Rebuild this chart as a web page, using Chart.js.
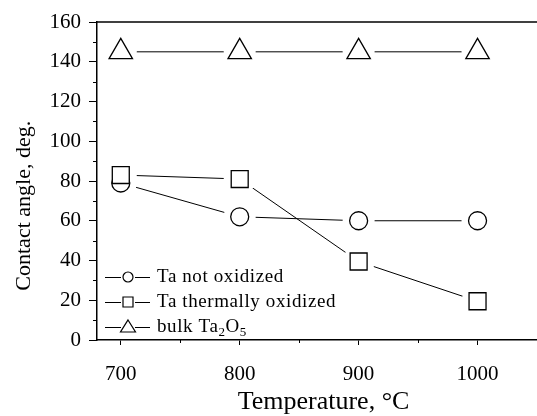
<!DOCTYPE html>
<html>
<head>
<meta charset="utf-8">
<script src="https://cdn.jsdelivr.net/npm/chart.js@4/dist/chart.umd.min.js"></script>
<style>
  html, body { margin: 0; padding: 0; background: #fff; overflow: hidden; }
  canvas { display: block; }
</style>
</head>
<body>
<canvas id="myChart" width="537" height="416"></canvas>
<script>
// --- DATA ---
const temps = [700, 800, 900, 1000];
const taNotOxidized = [79, 62, 60, 60];
const taThermOxidized = [83, 81, 39.5, 19.5];
const bulkTa2O5 = [145, 145, 145, 145];

const yTicks = [0, 20, 40, 60, 80, 100, 120, 140, 160];
const yMinor = [10, 30, 50, 70, 90, 110, 130, 150];
const xTicks = [700, 800, 900, 1000];
const xMinor = [750, 850, 950];

const legendNames = ['Ta not oxidized', 'Ta thermally oxidized', 'bulk Ta'];

const SERIF = '"Liberation Serif", "Times New Roman", serif';

function pts(vals) {
    return temps.map((t, i) => ({ x: t, y: vals[i] }));
}

// lines first, then white masks (gap round the markers), then markers
function lineSet(vals) {
    return { data: pts(vals), borderColor: '#000', borderWidth: 1, pointRadius: 0, fill: false, order: 5 };
}
function maskSet(vals) {
    return { data: pts(vals), showLine: false, pointStyle: 'circle', pointRadius: 16,
             pointBackgroundColor: '#fff', pointBorderWidth: 0, pointBorderColor: '#fff', order: 4 };
}
function markerSet(vals, style, r, order) {
    return { data: pts(vals), showLine: false, pointStyle: style, pointRadius: r,
             pointBackgroundColor: '#fff', pointBorderColor: '#000', pointBorderWidth: 1.3, order: order };
}

// --- EXTRA DRAWING: frame top, minor ticks, legend ---
const extras = {
    id: 'extras',
    afterDraw(chart) {
        const { ctx, chartArea: a, scales: { x, y } } = chart;
        ctx.save();
        ctx.strokeStyle = '#000';

        // top frame line
        ctx.lineWidth = 1.5;
        ctx.beginPath();
        ctx.moveTo(a.left - 0.75, a.top);
        ctx.lineTo(a.right, a.top);
        ctx.stroke();

        // minor ticks
        ctx.lineWidth = 1;
        ctx.beginPath();
        yMinor.forEach(v => {
            const py = Math.round(y.getPixelForValue(v)) + 0.5;
            ctx.moveTo(a.left - 4, py);
            ctx.lineTo(a.left, py);
        });
        xMinor.forEach(v => {
            const px = Math.round(x.getPixelForValue(v)) + 0.5;
            ctx.moveTo(px, a.bottom);
            ctx.lineTo(px, a.bottom + 3);
        });
        ctx.stroke();

        // legend
        const rows = [277, 302, 327];
        const lx0 = a.left + 8, lx1 = a.left + 53, mx = a.left + 31;
        ctx.fillStyle = '#000';
        ctx.font = '19px ' + SERIF;
        ctx.letterSpacing = '0.6px';
        ctx.textBaseline = 'middle';
        ctx.textAlign = 'left';
        rows.forEach((ry, i) => {
            ctx.lineWidth = 1;
            ctx.beginPath();
            ctx.moveTo(lx0, ry + 0.5); ctx.lineTo(mx - 7, ry + 0.5);
            ctx.moveTo(mx + 7, ry + 0.5); ctx.lineTo(lx1, ry + 0.5);
            ctx.stroke();
            ctx.lineWidth = 1.2;
            ctx.beginPath();
            if (i === 0) {
                ctx.arc(mx, ry, 5, 0, Math.PI * 2);
            } else if (i === 1) {
                ctx.rect(mx - 5, ry - 5, 10, 10);
            } else {
                ctx.moveTo(mx, ry - 7);
                ctx.lineTo(mx + 7.5, ry + 5);
                ctx.lineTo(mx - 7.5, ry + 5);
                ctx.closePath();
            }
            ctx.stroke();
            ctx.fillText(legendNames[i], a.left + 60, ry);
        });
        // Ta2O5 subscripts
        let tx = a.left + 60 + ctx.measureText(legendNames[2]).width;
        const ry = rows[2];
        ctx.font = '13px ' + SERIF;
        ctx.fillText('2', tx, ry + 6);
        tx += ctx.measureText('2').width;
        ctx.font = '19px ' + SERIF;
        ctx.fillText('O', tx, ry);
        tx += ctx.measureText('O').width;
        ctx.font = '13px ' + SERIF;
        ctx.fillText('5', tx, ry + 6);

        ctx.restore();
    }
};

const ctx = document.getElementById('myChart').getContext('2d');
const myChart = new Chart(ctx, {
    type: 'line',
    data: {
        datasets: [
            lineSet(taNotOxidized),
            lineSet(taThermOxidized),
            lineSet(bulkTa2O5),
            maskSet(taNotOxidized),
            maskSet(taThermOxidized),
            maskSet(bulkTa2O5),
            markerSet(taNotOxidized, 'circle', 9, 3),
            markerSet(taThermOxidized, 'rect', 12, 2),
            markerSet(bulkTa2O5, 'triangle', 13.5, 1)
        ]
    },
    options: {
        responsive: false,
        animation: false,
        events: [],
        // autoPadding off: the big white mask points would otherwise shrink the plot
        layout: { autoPadding: false, padding: { top: 22, right: 0, bottom: 0, left: 0 } },
        plugins: { legend: { display: false }, tooltip: { enabled: false } },
        scales: {
            x: {
                type: 'linear',
                min: 680,
                max: 1050,
                afterFit(s) { s.height = 76; s.paddingLeft = 0; s.paddingRight = 0; },
                afterBuildTicks(s) { s.ticks = xTicks.map(v => ({ value: v })); },
                ticks: { color: '#000', font: { family: SERIF, size: 21 }, padding: 17, maxRotation: 0,
                         callback: v => String(v) },
                grid: { drawOnChartArea: false, drawTicks: true, tickLength: 5, tickColor: '#000', tickWidth: 1 },
                border: { display: true, color: '#000', width: 1.5 },
                title: { display: true, text: '  Temperature, \u00B0C', color: '#000',
                         font: { family: SERIF, size: 26 }, padding: { top: 0, bottom: -2 } }
            },
            y: {
                type: 'linear',
                min: 0,
                max: 160,
                afterFit(s) { s.width = 97; },
                afterBuildTicks(s) { s.ticks = yTicks.map(v => ({ value: v })); },
                ticks: { color: '#000', font: { family: SERIF, size: 21 }, padding: 8 },
                grid: { drawOnChartArea: false, drawTicks: true, tickLength: 8, tickColor: '#000', tickWidth: 1 },
                border: { display: true, color: '#000', width: 1.5 },
                title: { display: true, text: 'Contact angle, deg.         ', color: '#000',
                         font: { family: SERIF, size: 22 }, padding: { top: 11, bottom: 0 } }
            }
        }
    },
    plugins: [extras]
});
</script>
</body>
</html>
